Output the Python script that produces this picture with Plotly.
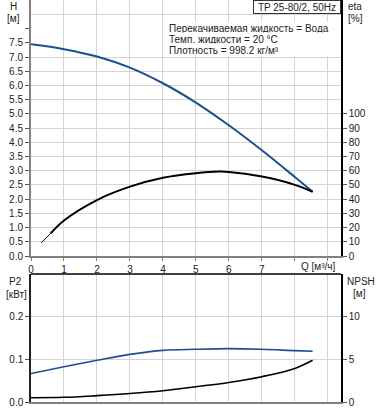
import plotly.graph_objects as go

# ---- data ----
q_h = [0, 1, 2, 3, 4, 5, 6, 7, 8, 8.54]
head = [7.45, 7.28, 7.02, 6.63, 6.08, 5.4, 4.6, 3.72, 2.78, 2.26]

q_eta = [0.31, 0.6, 1, 2, 3, 4, 5, 5.7, 6, 7, 8, 8.54]
eta = [9.2, 16, 25, 39.4, 48.8, 55.1, 58.3, 59.4, 59.2, 55.9, 50.1, 45.2]

q_low = [0, 1, 2, 3, 4, 5, 6, 7, 8, 8.54]
p2 = [0.067, 0.083, 0.098, 0.112, 0.1215, 0.124, 0.1254, 0.124, 0.1207, 0.1192]
npsh = [0.5, 0.55, 0.75, 1.0, 1.33, 1.8, 2.3, 2.98, 3.95, 4.9]

q_ticks = list(range(0, 10))
q_ticktext = ["0", "1", "2", "3", "4", "5", "6", "7", "", ""]
h_ticks = [i * 0.5 for i in range(17)]
h_ticktext = [f"{v:.1f}" for v in h_ticks[:-1]] + [""]
h_grid = [i * 0.5 for i in range(1, 15)] + [8.5]
eta_ticks = list(range(0, 101, 10))
p2_ticks = [0, 0.1, 0.2]
p2_ticktext = ["0.0", "0.1", "0.2"]
npsh_ticks = [0, 5, 10]

title_text = "TP 25-80/2, 50Hz"
info_lines = ["Перекачиваемая жидкость = Вода",
              "Темп. жидкости = 20 °C",
              "Плотность = 998.2 кг/м³"]

# ---- geometry ----
W, H = 378, 410
ML, MR, MT, MB = 31, 37, 0, 8
PW = W - ML - MR
PH = H - MT - MB

def px(x):
    return (x - ML) / PW

def py(y):
    return (PH - (y - MT)) / PH

BLUE = "#1d4f8f"
FONT = dict(family="Liberation Sans, Arial, sans-serif", size=10, color="#222")
GRID = "#d4d4d4"

fig = go.Figure()
fig.add_trace(go.Scatter(x=q_h, y=head, xaxis="x", yaxis="y", mode="lines",
                         line=dict(color=BLUE, width=2, shape="spline"), showlegend=False))
fig.add_trace(go.Scatter(x=q_eta[:2], y=eta[:2], xaxis="x", yaxis="y2", mode="lines",
                         line=dict(color="black", width=1), showlegend=False))
fig.add_trace(go.Scatter(x=q_eta[1:], y=eta[1:], xaxis="x", yaxis="y2", mode="lines",
                         line=dict(color="black", width=2, shape="spline"), showlegend=False))
fig.add_trace(go.Scatter(x=q_low, y=p2, xaxis="x2", yaxis="y3", mode="lines",
                         line=dict(color=BLUE, width=1.6, shape="spline"), showlegend=False))
fig.add_trace(go.Scatter(x=q_low, y=npsh, xaxis="x2", yaxis="y4", mode="lines",
                         line=dict(color="black", width=1.6, shape="spline"), showlegend=False))

top_dom = [py(256), 1]
bot_dom = [0, py(274)]
xr = [0, 9.4]

fig.update_layout(
    width=W, height=H, margin=dict(l=ML, r=MR, t=MT, b=MB),
    paper_bgcolor="white", plot_bgcolor="white", font=FONT,
    xaxis=dict(domain=[0, 1], anchor="y", range=xr, tickmode="array", automargin=False,
               tickvals=q_ticks, ticktext=q_ticktext, showgrid=True, gridcolor=GRID,
               gridwidth=1, showline=True, linecolor="#808080", linewidth=2,
               ticks="outside", ticklen=3, tickcolor="#808080", zeroline=False),
    yaxis=dict(domain=top_dom, anchor="x", range=[0, 9.01], tickmode="array", automargin=False,
               tickvals=h_ticks, ticktext=h_ticktext, showgrid=False,
               minor=dict(tickmode="array", tickvals=h_grid, showgrid=True,
                          gridcolor=GRID, gridwidth=1, ticks=""),
               showline=True, linecolor="#808080", linewidth=2, ticks="outside",
               ticklen=4, tickcolor="#555", zeroline=False),
    yaxis2=dict(overlaying="y", side="right", anchor="x", range=[0, 180.2], automargin=False,
                tickmode="array", tickvals=eta_ticks, showgrid=False, showline=True,
                linecolor="black", linewidth=1.5, ticks="outside", ticklen=4,
                tickcolor="#555", zeroline=False),
    xaxis2=dict(domain=[0, 1], anchor="y3", range=xr, tickmode="array", automargin=False,
                tickvals=q_ticks, showticklabels=False, showgrid=True, gridcolor=GRID,
                gridwidth=1, showline=True, linecolor="#808080", linewidth=2,
                ticks="", zeroline=False),
    yaxis3=dict(domain=bot_dom, anchor="x2", range=[0, 0.301], tickmode="array", automargin=False,
                tickvals=p2_ticks, ticktext=p2_ticktext, showgrid=True, gridcolor=GRID,
                gridwidth=1, showline=True, linecolor="#222", linewidth=1.5,
                ticks="outside", ticklen=4, tickcolor="#555", zeroline=False),
    yaxis4=dict(overlaying="y3", side="right", anchor="x2", range=[0, 15.05], automargin=False,
                tickmode="array", tickvals=npsh_ticks, showgrid=False, showline=True,
                linecolor="black", linewidth=1.5, ticks="outside", ticklen=4,
                tickcolor="#555", zeroline=False),
)

# top border of the lower panel
fig.add_shape(type="line", xref="paper", yref="paper", x0=0, x1=1,
              y0=bot_dom[1], y1=bot_dom[1], line=dict(color="black", width=1.5))

ann = []
def label(text, x, y, xanchor="center", **kw):
    ann.append(dict(text=text, x=px(x), y=py(y), xref="paper", yref="paper",
                    xanchor=xanchor, yanchor="middle", showarrow=False, font=FONT, **kw))

label("H", 13, 7)
label("[м]", 13, 19)
label("eta", 346, 7, xanchor="left")
label("[%]", 346, 19, xanchor="left")
label("P2", 15, 281)
label("[кВт]", 16, 294)
label("NPSH", 345, 281, xanchor="left")
label("[м]", 359, 293)
label("Q [м³/ч]", 318.5, 266)

for i, t in enumerate(info_lines):
    ann.append(dict(text=t, x=px(168), y=py(27.7 + 11 * i), xref="paper", yref="paper",
                    xanchor="left", yanchor="middle", showarrow=False, font=FONT,
                    bgcolor="white", width=170, height=12, align="left", borderpad=0))

ann.append(dict(text=title_text, x=px(340.5), y=1, xref="paper", yref="paper",
                xanchor="right", yanchor="top", showarrow=False, font=FONT,
                bgcolor="white", bordercolor="#333", borderwidth=1, borderpad=0,
                width=86, height=12))

fig.update_layout(annotations=ann)
fig.write_html("out.html", config={"displayModeBar": False},
               post_script="document.body.style.margin='0px';document.body.style.overflow='hidden';")
